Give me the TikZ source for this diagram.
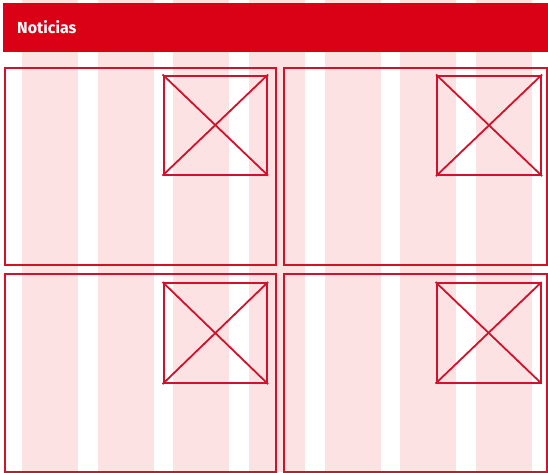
\documentclass[tikz,border=0pt]{standalone}
\usepackage{fontspec}
\newfontfamily\headfont{Fira Sans}
\definecolor{barred}{HTML}{DA0016}
\definecolor{linered}{HTML}{D0122B}
\definecolor{colpink}{HTML}{FDE2E3}
\begin{document}
\begin{tikzpicture}[x=1pt,y=-1pt,
  card/.style={draw=linered,line width=2pt,rectangle,inner sep=0pt,anchor=north west},
  imgbox/.style={draw=linered,line width=2.1pt,rectangle,inner sep=0pt,anchor=north west},
  cross/.style={draw=linered,line width=1.8pt}]
\useasboundingbox (0,0) rectangle (548,472);
\fill[white] (0,0) rectangle (548,472);
% grid columns
\foreach \i in {0,...,6}{
  \fill[colpink] ({22+75.67*\i},0) rectangle ({22+75.67*\i+56},472);
}
% header bar
\node[fill=barred,rectangle,inner sep=0pt,anchor=north west,minimum width=545pt,minimum height=49pt] (bar) at (3,3) {};
\node[anchor=base west,inner sep=0pt,text=white,font=\headfont\bfseries\fontsize{16}{19}\selectfont] (title) at (17,33) {Noticias};
% cards
\node[card,minimum width=271.5pt,minimum height=197pt] (c1) at (3.5,67) {};
\node[card,minimum width=263.5pt,minimum height=197pt] (c2) at (282.5,67) {};
\node[card,minimum width=271.5pt,minimum height=197.5pt] (c3) at (3.5,273) {};
\node[card,minimum width=263.5pt,minimum height=197.5pt] (c4) at (282.5,273) {};
% image placeholders
\node[imgbox,minimum width=103.5pt,minimum height=99pt] (i1) at (162.5,74.5) {};
\node[imgbox,minimum width=104pt,minimum height=99.5pt] (i2) at (436,74.5) {};
\node[imgbox,minimum width=103.5pt,minimum height=100pt] (i3) at (162.5,282) {};
\node[imgbox,minimum width=104pt,minimum height=99.5pt] (i4) at (435.5,282) {};
\foreach \n in {i1,i2,i3,i4}{
  \draw[cross] (\n.north west) -- (\n.south east);
  \draw[cross] (\n.north east) -- (\n.south west);
}
\end{tikzpicture}
\end{document}
